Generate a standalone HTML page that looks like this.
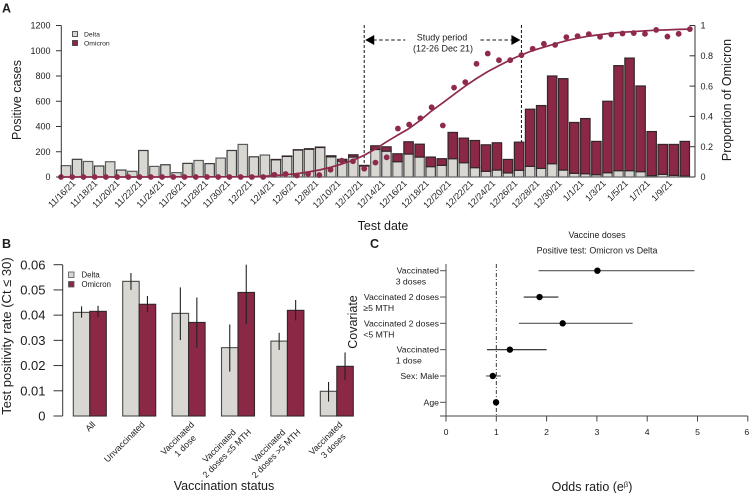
<!DOCTYPE html>
<html>
<head>
<meta charset="utf-8">
<style>
html,body{margin:0;padding:0;background:#fff;}
svg{display:block;font-family:"Liberation Sans","DejaVu Sans",sans-serif;fill:#1c1c1c;filter:blur(0.25px);}
</style>
</head>
<body>
<svg id="chart" width="750" height="493" viewBox="0 0 750 493" xmlns="http://www.w3.org/2000/svg">
  <rect width="750" height="493" fill="#fff"/>
  <text x="2" y="12.5" font-size="12.5" font-weight="bold">A</text>
  <text x="2" y="248" font-size="12.5" font-weight="bold">B</text>
  <text x="370" y="248" font-size="12.5" font-weight="bold">C</text>

  <text transform="translate(21,100) rotate(-90)" text-anchor="middle" font-size="12.5">Positive cases</text>
  <text transform="translate(731,100) rotate(-90)" text-anchor="middle" font-size="12.5">Proportion of Omicron</text>
  <text x="383" y="230" text-anchor="middle" font-size="12.5">Test date</text>
  <text x="442" y="40.5" text-anchor="middle" font-size="9">Study period</text>
  <text x="443" y="51.5" text-anchor="middle" font-size="9">(12-26 Dec 21)</text>
  <g>
    <rect x="72.5" y="31.5" width="5" height="5" fill="#d8d7d2" stroke="#333" stroke-width="0.8"/>
    <text x="84" y="36.5" font-size="6.8">Delta</text>
    <rect x="72.5" y="40.5" width="5" height="5" fill="#8b2846" stroke="#333" stroke-width="0.8"/>
    <text x="84" y="45.5" font-size="6.8">Omicron</text>
  </g>

  <text transform="translate(11,336) rotate(-90)" text-anchor="middle" font-size="13">Test positivity rate (Ct ≤ 30)</text>
  <text x="224" y="490" text-anchor="middle" font-size="12.5">Vaccination status</text>
  <g>
    <rect x="68.5" y="272" width="5.5" height="5.5" fill="#d8d7d2" stroke="#555" stroke-width="0.8"/>
    <text x="81.5" y="277.5" font-size="7.8">Delta</text>
    <rect x="68.5" y="281.5" width="5.5" height="5.5" fill="#8b2846" stroke="#555" stroke-width="0.8"/>
    <text x="81.5" y="287" font-size="7.8">Omicron</text>
  </g>

  <text x="597" y="238" text-anchor="middle" font-size="8.9">Vaccine doses</text>
  <text x="597" y="253.5" text-anchor="middle" font-size="8.9">Positive test: Omicron vs Delta</text>
  <text transform="translate(357,322) rotate(-90)" text-anchor="middle" font-size="12.5">Covariate</text>
  <text x="592" y="491" text-anchor="middle" font-size="12.5">Odds ratio (e<tspan font-size="7.5" dy="-4">β</tspan><tspan dy="4">)</tspan></text>
</svg>

<script>
// ---------- Panel A data ----------
var dates = ["11/16/21","11/17/21","11/18/21","11/19/21","11/20/21","11/21/21","11/22/21","11/23/21","11/24/21","11/25/21","11/26/21","11/27/21","11/28/21","11/29/21","11/30/21","12/1/21","12/2/21","12/3/21","12/4/21","12/5/21","12/6/21","12/7/21","12/8/21","12/9/21","12/10/21","12/11/21","12/12/21","12/13/21","12/14/21","12/15/21","12/16/21","12/17/21","12/18/21","12/19/21","12/20/21","12/21/21","12/22/21","12/23/21","12/24/21","12/25/21","12/26/21","12/27/21","12/28/21","12/29/21","12/30/21","12/31/21","1/1/21","1/2/21","1/3/21","1/4/21","1/5/21","1/6/21","1/7/21","1/8/21","1/9/21","1/10/21","1/11/21"];
var deltaCases = [90,140,123,87,121,55,45,210,84,97,35,108,131,106,150,210,258,160,174,137,163,214,220,234,160,125,158,87,218,205,121,182,158,82,92,145,113,74,45,55,32,53,84,68,105,55,29,26,18,34,50,50,42,11,21,13,8];
var omicronCases = [0,0,0,0,0,0,0,0,0,0,0,0,0,0,0,0,0,0,0,2,3,2,4,3,8,15,18,5,29,34,63,97,102,76,53,208,195,215,210,216,107,223,453,498,695,724,403,437,264,566,832,892,679,349,237,245,274];
var omicronShare = [0,0,0,0,0,0,0,0,0,0,0,0,0,0,0,0,0,0,0,0.015,0.02,0.01,0.02,0.013,0.048,0.108,0.104,0.055,0.095,0.13,0.32,0.346,0.388,0.46,0.34,0.59,0.626,0.747,0.815,0.771,0.771,0.804,0.846,0.879,0.872,0.923,0.93,0.943,0.925,0.94,0.947,0.95,0.945,0.971,0.927,0.945,0.976];
var fittedShare = [0,0,0,0,0,0,0,0,0,0,0.001,0.001,0.001,0.001,0.001,0.001,0.001,0.002,0.004,0.009,0.015,0.022,0.033,0.046,0.064,0.086,0.11,0.143,0.185,0.233,0.277,0.32,0.375,0.436,0.49,0.546,0.6,0.65,0.696,0.735,0.773,0.806,0.835,0.857,0.879,0.9,0.916,0.93,0.94,0.949,0.956,0.96,0.965,0.969,0.971,0.974,0.976];
var casesTicks = [0,200,400,600,800,1000,1200];
var shareTicks = [0,0.2,0.4,0.6,0.8,1];
var shareTickLabels = ["0","0.2","0.4","0.6","0.8","1"];
var studyStartIndex = 27;
var studyEndIndex = 41;

// ---------- Panel B data ----------
var statusGroups = [["All"],["Unvaccinated"],["Vaccinated","1 dose"],["Vaccinated","2 doses ≤5 MTH"],["Vaccinated","2 doses >5 MTH"],["Vaccinated","3 doses"]];
var deltaRate = [0.0411,0.0534,0.0407,0.0271,0.0297,0.0098];
var deltaRateLow = [0.039,0.05,0.0301,0.0176,0.0262,0.0057];
var deltaRateHigh = [0.0435,0.0567,0.051,0.0363,0.033,0.0135];
var omicronRate = [0.0415,0.0443,0.0371,0.049,0.0419,0.0197];
var omicronRateLow = [0.0392,0.0412,0.0271,0.0365,0.0379,0.0143];
var omicronRateHigh = [0.0437,0.0476,0.047,0.06,0.046,0.0252];
var rateTicks = [0,0.01,0.02,0.03,0.04,0.05,0.06];
var rateTickLabels = ["0","0.01","0.02","0.03","0.04","0.05","0.06"];

// ---------- Panel C data ----------
var covariates = [["Vaccinated","3 doses"],["Vaccinated 2 doses","≥5 MTH"],["Vaccinated 2 doses","<5 MTH"],["Vaccinated","1 dose"],["Sex: Male"],["Age"]];
var covariateSecondLineWide = [false,true,true,false,false,false];
var oddsRatio = [3.01,1.86,2.32,1.27,0.93,0.995];
var oddsLow = [1.84,1.545,1.45,0.815,0.795,0.97];
var oddsHigh = [4.94,2.235,3.71,2.0,1.09,1.02];
var oddsTicks = [0,1,2,3,4,5,6];

// ---------- helpers ----------
var svg = document.getElementById('chart');
var NS = 'http://www.w3.org/2000/svg';
var DELTA = '#d8d7d2', OMICRON = '#8b2846', DOT = '#8f2a4a', INK = '#333';
function mk(tag, parent, props, txt) {
  var el = document.createElementNS(NS, tag);
  for (var k in props) { el.setAttribute(k, props[k]); }
  if (txt !== undefined) { el.textContent = txt; }
  parent.appendChild(el);
  return el;
}
function group(parent) { return mk('g', parent, {}); }

// axis functions
function xDot(i) { return 61 + i * 11.23; }
function xBar(i) { return 66 + i * 11.05; }
function yCases(v) { return 177 - v * 151.5 / 1200; }
function yShare(v) { return 177 - v * 151.5; }
function xGroup(i) { return 73.3 + i * 49.4; }
function yRate(v) { return 416 - v * 151.3 / 0.06; }
function xOdds(v) { return 446 + v * 50.3; }
function yRow(i) { return 270.7 + i * 26.32; }

// ---------- Panel A ----------
var panelA = group(svg);



[studyStartIndex, studyEndIndex].forEach(function (idx) {
  var line = mk('line', panelA, {x1: xDot(idx), x2: xDot(idx), y1: 25, y2: 177, stroke: '#111', 'stroke-width': 1, 'stroke-dasharray': '3 2'});
  
  
});

var arrowLeftX = xDot(studyStartIndex), arrowRightX = xDot(studyEndIndex);
var dashL = mk('line', panelA, {x1: arrowLeftX + 9, x2: arrowLeftX + 41, y1: 40, y2: 40, stroke: '#111', 'stroke-width': 1, 'stroke-dasharray': '3.5 2.5'});


var dashR = mk('line', panelA, {x1: arrowRightX - 41, x2: arrowRightX - 9, y1: 40, y2: 40, stroke: '#111', 'stroke-width': 1, 'stroke-dasharray': '3.5 2.5'});


var headL = mk('polygon', panelA, {points: (arrowLeftX + 1) + ',40 ' + (arrowLeftX + 10) + ',35 ' + (arrowLeftX + 10) + ',45', fill: '#000'});


var headR = mk('polygon', panelA, {points: (arrowRightX - 1) + ',40 ' + (arrowRightX - 10) + ',35 ' + (arrowRightX - 10) + ',45', fill: '#000'});



dates.forEach(function (d, i) {
  var w = 9.4, x = xBar(i) - w / 2;
  var d1 = mk('rect', panelA, {x: x, y: yCases(deltaCases[i]), width: w, height: 177 - yCases(deltaCases[i]), fill: DELTA, stroke: i % 2 ? '#3c3c3c' : '#5c5c5c', 'stroke-width': 1.2});
  
  
  if (omicronCases[i] > 0) {
    var top = yCases(deltaCases[i] + omicronCases[i]);
    var o1 = mk('rect', panelA, {x: x, y: top, width: w, height: yCases(deltaCases[i]) - top, fill: OMICRON, stroke: '#33262a', 'stroke-width': 1.2});
    
    
  }
});

var baseA = mk('line', panelA, {x1: 61, x2: 695, y1: 177, y2: 177, stroke: '#666', 'stroke-width': 1});



var fitPts = fittedShare.map(function (v, i) { return xDot(i).toFixed(1) + ',' + yShare(v).toFixed(1); }).join(' ');
var fit = mk('polyline', panelA, {points: fitPts, fill: 'none', stroke: DOT, 'stroke-width': 1.7, 'stroke-linejoin': 'round'});



omicronShare.forEach(function (v, i) {
  var c = mk('circle', panelA, {cx: xDot(i), cy: yShare(v), r: 2.9, fill: DOT});
  
  
});

// A left axis
var aL = mk('line', panelA, {x1: 61.3, x2: 61.3, y1: yCases(1200), y2: yCases(0), stroke: INK, 'stroke-width': 1});


casesTicks.forEach(function (t) {
  var tick = mk('line', panelA, {x1: 56, x2: 61.3, y1: yCases(t), y2: yCases(t), stroke: INK, 'stroke-width': 1});
  
  
  var lab = mk('text', panelA, {x: 50.5, y: yCases(t) + 3.2, 'text-anchor': 'end', 'font-size': 9}, String(t));
  
  
});

// A right axis
var aR = mk('line', panelA, {x1: 695, x2: 695, y1: yShare(1), y2: yShare(0), stroke: INK, 'stroke-width': 1});


shareTicks.forEach(function (t, i) {
  var tick = mk('line', panelA, {x1: 689.5, x2: 695, y1: yShare(t), y2: yShare(t), stroke: INK, 'stroke-width': 1});
  
  
  var lab = mk('text', panelA, {x: 700.5, y: yShare(t) + 3.2, 'font-size': 9}, shareTickLabels[i]);
  
  
});

// A date labels (every second day)
dates.forEach(function (d, i) {
  if (i % 2 !== 0 || i > 54) { return; }
  var ax = xBar(i) + 10, ay = 184;
  var lab = mk('text', panelA, {x: ax, y: ay, transform: 'rotate(-45 ' + ax + ' ' + ay + ')', 'text-anchor': 'end', 'font-size': 9}, d);
  
  
});

// ---------- Panel B ----------
var panelB = group(svg);


var barW = 16.5;

statusGroups.forEach(function (lines, i) {
  var gx = xGroup(i);
  var dBar = mk('rect', panelB, {x: gx, y: yRate(deltaRate[i]), width: barW, height: 416 - yRate(deltaRate[i]), fill: DELTA, stroke: '#4a4a4a', 'stroke-width': 1.1});
  
  
  var oBar = mk('rect', panelB, {x: gx + barW, y: yRate(omicronRate[i]), width: barW, height: 416 - yRate(omicronRate[i]), fill: OMICRON, stroke: '#33262a', 'stroke-width': 1.1});
  
  
  var dErr = mk('line', panelB, {x1: gx + barW / 2, x2: gx + barW / 2, y1: yRate(deltaRateLow[i]), y2: yRate(deltaRateHigh[i]), stroke: '#222', 'stroke-width': 1.1});
  
  
  var oErr = mk('line', panelB, {x1: gx + barW * 1.5, x2: gx + barW * 1.5, y1: yRate(omicronRateLow[i]), y2: yRate(omicronRateHigh[i]), stroke: '#222', 'stroke-width': 1.1});
  
  

  // rotated labels: block right-aligned on the group, lines centred in the block
  var block = group(panelB);
  
  
  block.setAttribute('transform', 'translate(' + (gx + barW + 4) + ',423) rotate(-45)');
  var nodes = lines.map(function (t, k) {
    var n = mk('text', block, {'font-size': 8.8, 'text-anchor': 'middle', y: 3 + k * 10.8}, t);
    
    
    return n;
  });
  var maxW = 0;
  nodes.forEach(function (n) { maxW = Math.max(maxW, n.getComputedTextLength()); });
  nodes.forEach(function (n) { n.setAttribute('x', -maxW / 2); });
});

var bL = mk('line', panelB, {x1: 62.7, x2: 62.7, y1: yRate(0.06), y2: yRate(0), stroke: INK, 'stroke-width': 1});


rateTicks.forEach(function (t, i) {
  var tick = mk('line', panelB, {x1: 53.5, x2: 62.7, y1: yRate(t), y2: yRate(t), stroke: INK, 'stroke-width': 1});
  
  
  var lab = mk('text', panelB, {x: 45.5, y: yRate(t) + 4.6, 'text-anchor': 'end', 'font-size': 13}, rateTickLabels[i]);
  
  
});

// ---------- Panel C ----------
var panelC = group(svg);



var refLine = mk('line', panelC, {x1: xOdds(1), x2: xOdds(1), y1: 264, y2: 416, stroke: '#222', 'stroke-width': 0.9, 'stroke-dasharray': '4 2 1 2'});



var cY = mk('line', panelC, {x1: 446, x2: 446, y1: 264, y2: 416, stroke: '#777', 'stroke-width': 1.3});


var cX = mk('line', panelC, {x1: 440, x2: xOdds(6), y1: 416, y2: 416, stroke: '#444', 'stroke-width': 1.1});



oddsTicks.forEach(function (t) {
  var tick = mk('line', panelC, {x1: xOdds(t), x2: xOdds(t), y1: 416, y2: 421.5, stroke: '#444', 'stroke-width': 1});
  
  
  var lab = mk('text', panelC, {x: t === 6 ? xOdds(t) - 1 : xOdds(t), y: 435, 'text-anchor': 'middle', 'font-size': 8.7}, String(t));
  
  
});

covariates.forEach(function (lines, i) {
  var y = yRow(i);
  var tick = mk('line', panelC, {x1: 440, x2: 446, y1: y, y2: y, stroke: '#555', 'stroke-width': 1});
  
  
  var first = mk('text', panelC, {x: 439, y: y + 3, 'text-anchor': 'end', 'font-size': 8.7}, lines[0]);
  
  
  if (lines[1]) {
    var second = mk('text', panelC, {x: covariateSecondLineWide[i] ? 363.3 : 395.7, y: y + 14, 'font-size': 8.7}, lines[1]);
    
    
  }
  var ci = mk('line', panelC, {x1: xOdds(oddsLow[i]), x2: xOdds(oddsHigh[i]), y1: y, y2: y, stroke: i % 2 ? '#222' : '#555', 'stroke-width': 1.1});
  
  
  var pt = mk('circle', panelC, {cx: xOdds(oddsRatio[i]), cy: y, r: 3.2, fill: '#000'});
  
  
});
</script>
</body>
</html>
